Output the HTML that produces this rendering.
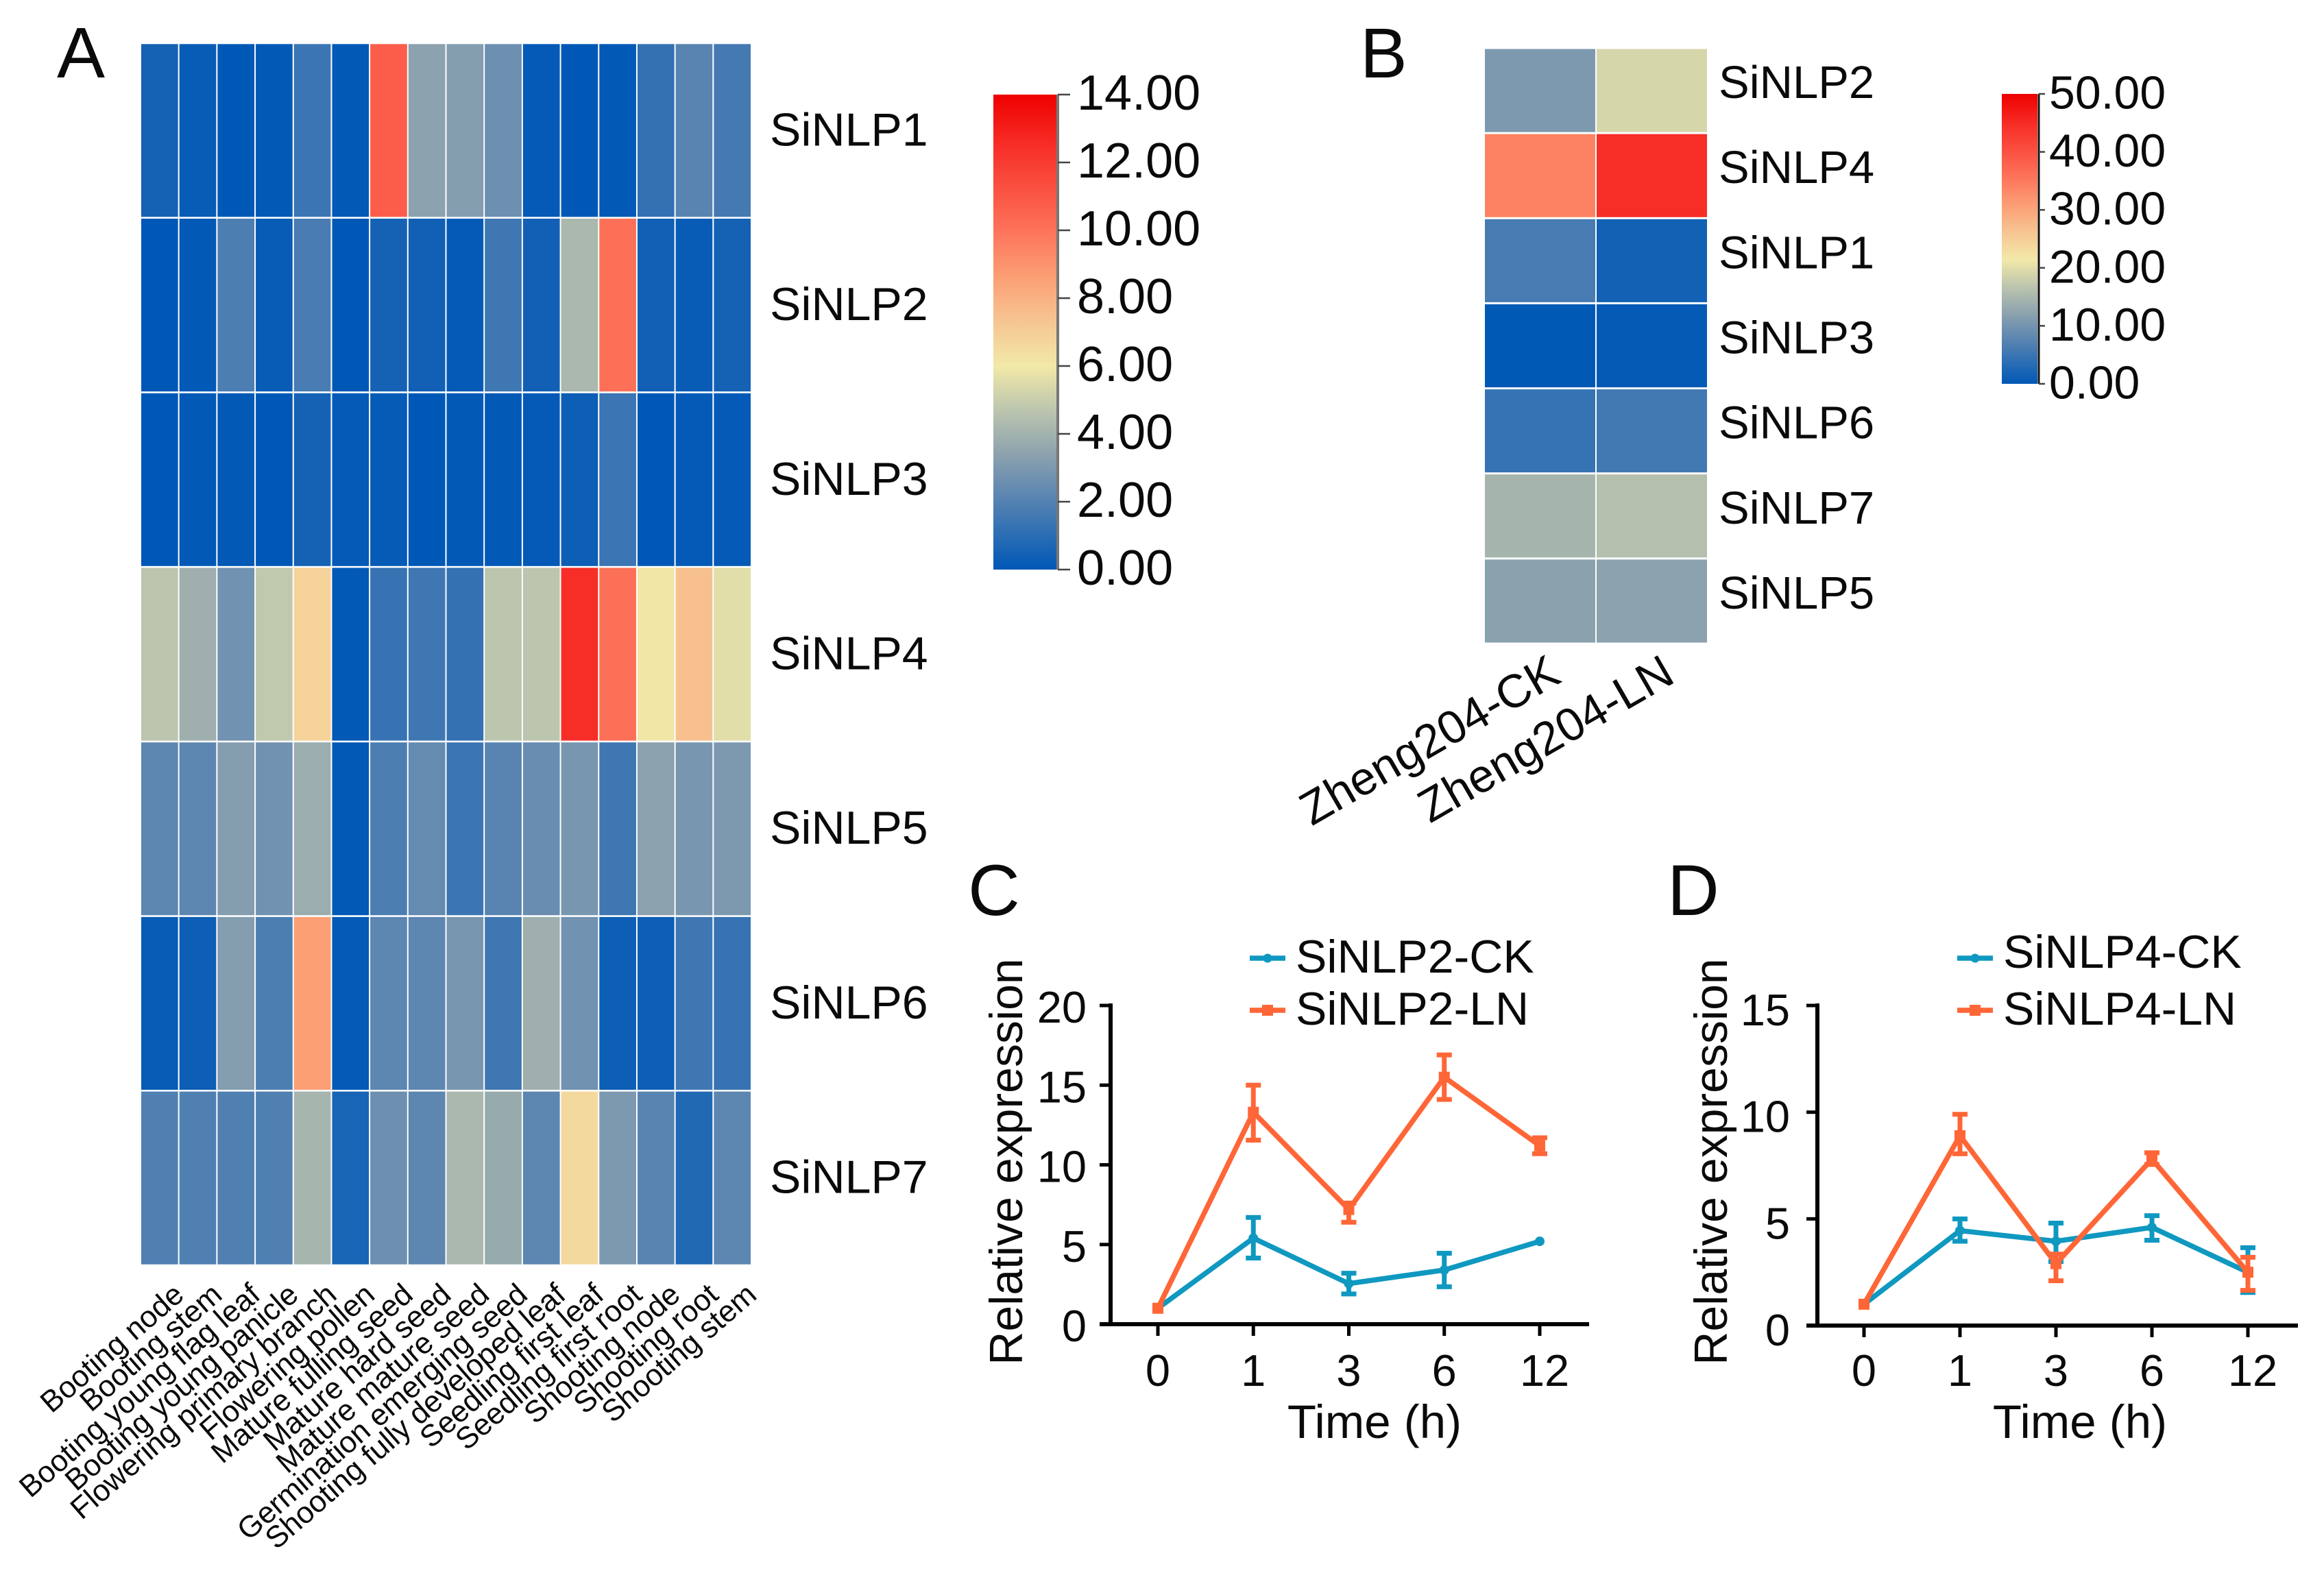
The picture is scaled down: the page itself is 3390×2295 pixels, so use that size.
<!DOCTYPE html>
<html lang="en">
<head>
<meta charset="utf-8">
<title>SiNLP expression figure</title>
<style>
html,body{margin:0;padding:0;background:#fff;}
svg{display:block;}
text{font-family:"Liberation Sans",Arial,sans-serif;fill:#0a0a0a;}
</style>
</head>
<body>
<svg id="figure" xmlns="http://www.w3.org/2000/svg" width="3390" height="2295" viewBox="0 0 3390 2295">
<defs>
<linearGradient id="cbar-gradient" x1="0" y1="1" x2="0" y2="0"></linearGradient>
</defs>
<text x="83" y="113" font-size="105">A</text>
<text x="1984" y="113" font-size="103">B</text>
<text x="1412" y="1335" font-size="105">C</text>
<text x="2432" y="1335" font-size="105">D</text>
<g id="panel-a"></g>
<g id="panel-b"></g>
<g id="panel-c"></g>
<g id="panel-d"></g>
</svg>
<script>
// ---------- Heatmap A data ----------
const tissueLabels = ['Booting node','Booting stem','Booting young flag leaf','Booting young panicle','Flowering primary branch','Flowering pollen','Mature fulling seed','Mature hard seed','Mature mature seed','Germination emerging seed','Shooting fully developed leaf','Seedling first leaf','Seedling first root','Shooting node','Shooting root','Shooting stem'];
const geneLabelsA = ['SiNLP1','SiNLP2','SiNLP3','SiNLP4','SiNLP5','SiNLP6','SiNLP7'];
const valuesA1 = [0.5,0.2,0,0.05,1.4,0.05,10.8,3.4,3.2,2.6,0.1,0,0.05,1.2,2.1,1.6];
const valuesA2 = [0,0.05,1.8,0.2,1.7,0,0.5,0.4,0.1,1.5,0.4,4.2,10.1,0.4,0.2,0.5];
const valuesA3 = [0,0.05,0.05,0,0.5,0.1,0.15,0,0.05,0.05,0.1,0.3,1.4,0,0.1,0.1];
const valuesA4 = [4.7,3.9,2.7,4.8,6.8,0.05,1.3,1.5,1.2,4.7,4.7,12.5,10.1,6.1,7.5,5.6];
const valuesA5 = [2.2,2.2,3.2,2.7,3.8,0.05,1.8,2.4,1.4,2.1,2.5,2.9,1.5,3.4,2.9,3.0];
const valuesA6 = [0.2,0.3,3.2,1.8,8.6,0.1,2.2,2.2,2.9,1.5,3.9,2.7,0.3,0.3,1.5,1.3];
const valuesA7 = [1.9,1.9,1.9,1.9,4.1,0.6,2.6,2.2,4.2,3.7,2.2,6.6,3.0,2.1,0.8,2.2];
const colorTicksA = ['0.00','2.00','4.00','6.00','8.00','10.00','12.00','14.00'];

// ---------- Heatmap B data ----------
const sampleLabels = ['Zheng204-CK','Zheng204-LN'];
const geneLabelsB = ['SiNLP2','SiNLP4','SiNLP1','SiNLP3','SiNLP6','SiNLP7','SiNLP5'];
const valuesCK = [10.7,34,6,0.1,4.6,14.6,12];
const valuesLN = [19,44.6,1.5,0.4,5.7,16,12.1];
const colorTicksB = ['0.00','10.00','20.00','30.00','40.00','50.00'];

// ---------- Line chart data ----------
const timeLabels = ['0','1','3','6','12'];
const ticksC = [0,5,10,15,20];
const ckMeanC = [1,5.4,2.55,3.4,5.2];
const ckUpperC = [1,6.7,3.2,4.45,5.2];
const ckLowerC = [1,4.15,1.9,2.35,5.2];
const lnMeanC = [1,13.3,7.2,15.5,11.2];
const lnUpperC = [1,15,7.6,16.9,11.7];
const lnLowerC = [1,11.55,6.4,14.1,10.7];
const ticksD = [0,5,10,15];
const ckMeanD = [1,4.45,3.95,4.6,2.5];
const ckUpperD = [1,5,4.8,5.15,3.65];
const ckLowerD = [1,3.95,3.0,4,1.55];
const lnMeanD = [1,8.9,2.9,7.8,2.5];
const lnUpperD = [1,9.9,3.35,8.1,3.2];
const lnLowerD = [1,8.05,2.1,7.55,1.65];

const NS = 'http://www.w3.org/2000/svg';
const COLORMAP = [[0,'#0058b6'],[2.2,'#5d86b1'],[3.4,'#8ca2ae'],[4.7,'#bcc5ae'],[6,'#f2e9a8'],[7.5,'#f7c08e'],[8.6,'#fc9f75'],[10.1,'#fd7058'],[12.5,'#f72e27'],[14,'#ee0000']];
const CK_COLOR = '#0f98c0';
const LN_COLOR = '#ff6637';

function rgb(hex){return [1,3,5].map(function(i){return parseInt(hex.substr(i,2),16);});}
function colorFor(norm){
  const v = Math.max(0,Math.min(1,norm))*14;
  for(let i=1;i<COLORMAP.length;i++){
    if(v<=COLORMAP[i][0]){
      const a=COLORMAP[i-1],b=COLORMAP[i],t=(v-a[0])/(b[0]-a[0]);
      const c1=rgb(a[1]),c2=rgb(b[1]);
      return 'rgb('+c1.map(function(c,k){return Math.round(c+(c2[k]-c)*t);}).join(',')+')';
    }
  }
  return COLORMAP[COLORMAP.length-1][1];
}
function add(parent,tag,attrs,text){
  const el=document.createElementNS(NS,tag);
  for(const k in attrs){el.setAttribute(k,attrs[k]);}
  if(text!==undefined){el.textContent=text;}
  parent.appendChild(el);
  return el;
}
function slug(s){return String(s).toLowerCase().replace(/[^a-z0-9]+/g,'-');}

const gradient=document.getElementById('cbar-gradient');
COLORMAP.forEach(function(s){
  add(gradient,'stop',{offset:s[0]/14,'stop-color':s[1]});
});

function drawColorbar(g,prefix,ticks,maxValue,box){
  const yOf=function(v){return box.bottom-(v/maxValue)*(box.bottom-box.top);};
  const bar=add(g,'rect',{x:box.left,y:box.top,width:box.right-box.left,height:box.bottom-box.top,fill:'url(#cbar-gradient)'});
  
  
  const axis=add(g,'line',{x1:box.axisX,x2:box.axisX,y1:box.top,y2:box.bottom,stroke:box.axisColor,'stroke-width':box.axisWidth});
  
  
  ticks.forEach(function(label){
    const y=yOf(parseFloat(label));
    const tick=add(g,'line',{x1:box.axisX,x2:box.tickEnd,y1:y,y2:y,stroke:'#444','stroke-width':2.5});
    
    
    const txt=add(g,'text',{x:box.labelX,y:y+box.fontSize*0.36-box.labelLift,'font-size':box.fontSize},label);
    
    
  });
}

// ---------- Panel A ----------
(function(){
  const g=document.getElementById('panel-a');
  const rowsA=[valuesA1,valuesA2,valuesA3,valuesA4,valuesA5,valuesA6,valuesA7];
  const left=205,right=1096,top=63,bottom=1846;
  const xScale=function(i){return left+i*(right-left)/tissueLabels.length;};
  const yScale=function(i){return top+i*(bottom-top)/geneLabelsA.length;};
  const cw=(right-left)/tissueLabels.length,ch=(bottom-top)/geneLabelsA.length;
  rowsA.forEach(function(row,r){
    row.forEach(function(v,c){
      const cell=add(g,'rect',{x:xScale(c)+1,y:yScale(r)+1.3,width:cw-2,height:ch-2.6,fill:colorFor(v/14)});
      
      
    });
    const lab=add(g,'text',{x:1123,y:yScale(r)+ch/2+22,'font-size':68},geneLabelsA[r]);
    
    
  });
  tissueLabels.forEach(function(name,c){
    const ax=xScale(c)+cw/2+38,ay=1893;
    const lab=add(g,'text',{transform:'translate('+ax+' '+ay+') rotate(-41)','text-anchor':'end','font-size':44},name);
    
    
  });
  drawColorbar(g,'panel-a',colorTicksA,14,{left:1449,right:1541,top:138,bottom:831,axisX:1543,axisColor:'#777',axisWidth:4,tickEnd:1561,labelX:1571,fontSize:72,labelLift:4});
})();

// ---------- Panel B ----------
(function(){
  const g=document.getElementById('panel-b');
  const columnsB=[valuesCK,valuesLN];
  const left=2165,right=2491,top=70,bottom=939;
  const xScale=function(i){return left+i*(right-left)/sampleLabels.length;};
  const yScale=function(i){return top+i*(bottom-top)/geneLabelsB.length;};
  const cw=(right-left)/sampleLabels.length,ch=(bottom-top)/geneLabelsB.length;
  columnsB.forEach(function(col,c){
    col.forEach(function(v,r){
      const cell=add(g,'rect',{x:xScale(c)+1,y:yScale(r)+1.5,width:cw-2,height:ch-3,fill:colorFor(v/50)});
      
      
    });
  });
  geneLabelsB.forEach(function(name,r){
    const lab=add(g,'text',{x:2507,y:yScale(r)+ch/2-11+22,'font-size':67},name);
    
    
  });
  sampleLabels.forEach(function(name,c){
    const ax=c===0?2280:2446,ay=994;
    const lab=add(g,'text',{transform:'translate('+ax+' '+ay+') rotate(-30)','text-anchor':'end','font-size':68},name);
    
    
  });
  drawColorbar(g,'panel-b',colorTicksB,50,{left:2920,right:2972,top:137,bottom:560,axisX:2974,axisColor:'#111',axisWidth:3,tickEnd:2983,labelX:2989,fontSize:68,labelLift:3});
})();

// ---------- Line charts ----------
function drawLineChart(g,cfg){
  const xScale=function(i){return cfg.x0+i*(cfg.x1-cfg.x0)/(timeLabels.length-1);};
  const yScale=function(v){return cfg.yBottom-(v/cfg.yMax)*(cfg.yBottom-cfg.yTop);};
  const yAxis=add(g,'line',{x1:cfg.axisX,x2:cfg.axisX,y1:cfg.yTop-3,y2:cfg.yBottom+3,stroke:'#000','stroke-width':6});
  
  
  const xAxis=add(g,'line',{x1:cfg.axisX-16,x2:cfg.xEnd,y1:cfg.yBottom,y2:cfg.yBottom,stroke:'#000','stroke-width':6});
  
  
  cfg.yTicks.forEach(function(v){
    const y=yScale(v);
    const tick=add(g,'line',{x1:cfg.axisX-16,x2:cfg.axisX,y1:y,y2:y,stroke:'#000','stroke-width':5});
    
    
    const lab=add(g,'text',{x:cfg.yLabelX,y:y+23+cfg.yLabelDrop,'text-anchor':'end','font-size':65},String(v));
    
    
  });
  timeLabels.forEach(function(label,i){
    const x=xScale(i);
    const tick=add(g,'line',{x1:x,x2:x,y1:cfg.yBottom,y2:cfg.yBottom+17,stroke:'#000','stroke-width':5});
    
    
    const lab=add(g,'text',{x:x+(label.length>1?7:0),y:2022,'text-anchor':'middle','font-size':65},label);
    
    
  });
  const yTitle=add(g,'text',{transform:'translate('+cfg.yTitleX+' 1695) rotate(-90)','text-anchor':'middle','font-size':68},'Relative expression');
  
  
  const xTitle=add(g,'text',{x:cfg.xTitleX,y:2098,'text-anchor':'middle','font-size':69},'Time (h)');
  
  

  cfg.series.forEach(function(s){
    const sg=add(g,'g',{});
    
    
    const pts=s.mean.map(function(v,i){return xScale(i)+','+yScale(v);}).join(' ');
    const line=add(sg,'polyline',{points:pts,fill:'none',stroke:s.color,'stroke-width':7.5,'stroke-linejoin':'miter'});
    
    
    s.mean.forEach(function(v,i){
      const x=xScale(i);
      if(s.upper[i]!==s.lower[i]){
        const stem=add(sg,'line',{x1:x,x2:x,y1:yScale(s.upper[i]),y2:yScale(s.lower[i]),stroke:s.color,'stroke-width':7});
        
        
        [s.upper[i],s.lower[i]].forEach(function(b){
          const cap=add(sg,'line',{x1:x-11,x2:x+11,y1:yScale(b),y2:yScale(b),stroke:s.color,'stroke-width':7});
          
          
        });
      }
      let mark;
      if(s.marker==='circle'){
        mark=add(sg,'circle',{cx:x,cy:yScale(v),r:7,fill:s.color});
      }else{
        mark=add(sg,'rect',{x:x-8,y:yScale(v)-8,width:16,height:16,fill:s.color});
      }
      
      
    });
    const ll=add(g,'line',{x1:cfg.legendX,x2:cfg.legendX+52,y1:s.legendY,y2:s.legendY,stroke:s.color,'stroke-width':7.5});
    
    
    let lm;
    if(s.marker==='circle'){
      lm=add(g,'circle',{cx:cfg.legendX+26,cy:s.legendY,r:6.5,fill:s.color});
    }else{
      lm=add(g,'rect',{x:cfg.legendX+18,y:s.legendY-8,width:16,height:16,fill:s.color});
    }
    
    
    const lt=add(g,'text',{x:cfg.legendTextX,y:s.legendBase,'font-size':68},s.label);
    
    
  });
}

drawLineChart(document.getElementById('panel-c'),{
  prefix:'panel-c',axisX:1620,yTop:1467,yBottom:1932,yMax:20,x0:1689,x1:2246,xEnd:2318,
  yTicks:ticksC,yLabelX:1585,yLabelDrop:2,yTitleX:1491,xTitleX:2005,legendX:1823,legendTextX:1890,
  series:[
    {label:'SiNLP2-CK',mean:ckMeanC,upper:ckUpperC,lower:ckLowerC,color:CK_COLOR,marker:'circle',legendY:1398,legendBase:1419},
    {label:'SiNLP2-LN',mean:lnMeanC,upper:lnUpperC,lower:lnLowerC,color:LN_COLOR,marker:'square',legendY:1474,legendBase:1495}
  ]
});
drawLineChart(document.getElementById('panel-d'),{
  prefix:'panel-d',axisX:2651,yTop:1467,yBottom:1934,yMax:15,x0:2719,x1:3279,xEnd:3352,
  yTicks:ticksD,yLabelX:2611,yLabelDrop:6,yTitleX:2519,xTitleX:3034,legendX:2855,legendTextX:2922,
  series:[
    {label:'SiNLP4-CK',mean:ckMeanD,upper:ckUpperD,lower:ckLowerD,color:CK_COLOR,marker:'circle',legendY:1398,legendBase:1412},
    {label:'SiNLP4-LN',mean:lnMeanD,upper:lnUpperD,lower:lnLowerD,color:LN_COLOR,marker:'square',legendY:1474,legendBase:1495}
  ]
});
</script>
</body>
</html>
